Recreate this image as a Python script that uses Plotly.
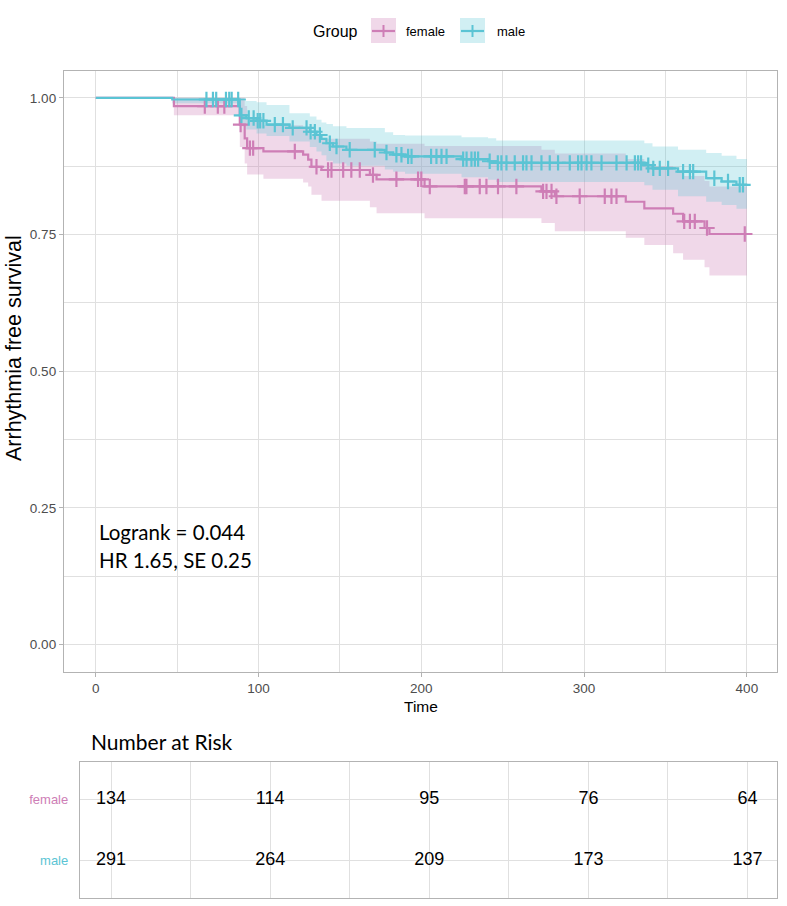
import numpy as np
import plotly.graph_objects as go

# ---------------- data ----------------
end_time = 400

female_t  = [0, 48, 88.5, 91.5, 93, 103, 127.4, 130.5, 132.5, 138.7, 168.4, 172.5, 202, 273.8, 282, 325.6, 337, 354.7, 360.8, 374, 377]
female_s  = [1.0, 0.985, 0.951, 0.926, 0.908, 0.902, 0.896, 0.887, 0.874, 0.868, 0.859, 0.851, 0.838, 0.829, 0.820, 0.810, 0.798, 0.788, 0.774, 0.762, 0.751]
female_lo = [1.0, 0.968, 0.910, 0.880, 0.860, 0.852, 0.845, 0.838, 0.823, 0.812, 0.800, 0.789, 0.780, 0.771, 0.756, 0.744, 0.731, 0.716, 0.704, 0.690, 0.675]
female_hi = [1.0, 1.0, 1.0, 0.985, 0.960, 0.950, 0.945, 0.940, 0.930, 0.925, 0.920, 0.916, 0.912, 0.905, 0.898, 0.888, 0.875, 0.868, 0.857, 0.848, 0.838]
female_cens = [67, 75, 79, 89, 94.7, 96.7, 122.3, 135.6, 142.7, 144.8, 152, 157, 162.2, 170.3, 184.7,
               198, 200, 205.2, 226.7, 227.7, 235.9, 240, 247.1, 258.4, 274.8, 276.9, 280, 283,
               297.3, 312.7, 316.8, 319.9, 361.5, 365, 368, 375.5, 398.7]

male_t  = [0, 47, 88.5, 92.5, 98.8, 104.9, 119, 131.5, 135.6, 138.7, 141.7, 145.7, 154, 177.6, 182.7, 190, 224.7, 241, 246, 337, 342, 357.7, 375, 384.5, 393.6]
male_s  = [1.0, 0.997, 0.968, 0.963, 0.958, 0.951, 0.945, 0.938, 0.932, 0.925, 0.917, 0.911, 0.905, 0.900, 0.896, 0.893, 0.888, 0.884, 0.881, 0.877, 0.871, 0.865, 0.853, 0.847, 0.841]
male_lo = [1.0, 0.990, 0.948, 0.942, 0.935, 0.930, 0.920, 0.910, 0.902, 0.895, 0.885, 0.880, 0.876, 0.869, 0.865, 0.861, 0.855, 0.850, 0.846, 0.840, 0.832, 0.820, 0.810, 0.804, 0.797]
male_hi = [1.0, 1.0, 0.994, 0.994, 0.992, 0.987, 0.972, 0.966, 0.960, 0.955, 0.952, 0.948, 0.945, 0.937, 0.932, 0.931, 0.928, 0.926, 0.922, 0.917, 0.911, 0.905, 0.899, 0.894, 0.888]
male_cens = [68, 72, 74, 80, 82, 83.5, 87.5, 89.5, 94, 97, 99.5, 101, 103, 110, 115, 121, 129.5, 132, 134.6, 137.7,
             143.8, 147.9, 156, 171.4, 178.6, 184.7, 187.8, 191.9, 194, 206, 209.3, 212.4, 215.5, 225.7, 227.8,
             230.8, 232.9, 234.9, 242, 247, 249.2, 252.3, 257.4, 262.5, 264.6, 267.7, 273.8, 278.9, 284, 291.2,
             296.3, 298.4, 301.5, 304.5, 310.7, 319.9, 326.1, 331.2, 333.2, 335, 339.4, 342.5, 346.5, 351.6,
             360.8, 365, 367, 380, 388.4, 395.6, 397.6]

risk_times = [0, 100, 200, 300, 400]
risk_female = [134, 114, 95, 76, 64]
risk_male = [291, 264, 209, 173, 137]
groups = ["female", "male"]

x_ticks = [0, 100, 200, 300, 400]
y_ticks = [0, 0.25, 0.5, 0.75, 1.0]

F_LINE = "#CE7EB6"
F_FILL = "rgba(206,126,182,0.30)"
M_LINE = "#5BC4D4"
M_FILL = "rgba(91,196,212,0.28)"
GRID = "#E0E0E0"
BORDER = "#B3B3B3"

W, H = 787, 906
def px(x): return x / W
def py(y): return 1 - y / H

def ext(t, v):
    return list(t) + [end_time], list(v) + [v[-1]]

def step_at(t, s, c):
    idx = np.searchsorted(np.array(t), np.array(c), side="right") - 1
    return list(np.array(s)[idx])

fig = go.Figure()

for t, s, lo, hi, fill in [(female_t, female_s, female_lo, female_hi, F_FILL),
                            (male_t, male_s, male_lo, male_hi, M_FILL)]:
    tx, lov = ext(t, lo)
    _, hiv = ext(t, hi)
    fig.add_trace(go.Scatter(x=tx, y=lov, mode="lines", line=dict(width=0, shape="hv"),
                             showlegend=False, hoverinfo="skip"))
    fig.add_trace(go.Scatter(x=tx, y=hiv, mode="lines", line=dict(width=0, shape="hv"),
                             fill="tonexty", fillcolor=fill, showlegend=False, hoverinfo="skip"))

for t, s, cens, col in [(female_t, female_s, female_cens, F_LINE),
                        (male_t, male_s, male_cens, M_LINE)]:
    tx, sv = ext(t, s)
    fig.add_trace(go.Scatter(x=tx, y=sv, mode="lines", line=dict(width=2.2, color=col, shape="hv"),
                             showlegend=False))
    fig.add_trace(go.Scatter(x=cens, y=step_at(t, s, cens), mode="markers",
                             marker=dict(symbol="cross-thin", size=11, line=dict(width=2.2, color=col), color=col),
                             showlegend=False))

# risk table
for g, vals, row in [("female", risk_female, 2), ("male", risk_male, 1)]:
    fig.add_trace(go.Scatter(x=risk_times, y=[row] * len(risk_times), text=[str(v) for v in vals],
                             mode="text", textfont=dict(size=18, color="black", family="Liberation Sans, Arial"),
                             xaxis="x2", yaxis="y2", showlegend=False))

axis_common = dict(showline=True, mirror=True, linecolor=BORDER, linewidth=1.3,
                   gridcolor=GRID, gridwidth=1.3, zeroline=False)

fig.update_layout(
    width=W, height=H, margin=dict(l=0, r=0, t=0, b=0),
    paper_bgcolor="white", plot_bgcolor="white", showlegend=False,
    font=dict(family="Liberation Sans, Arial", color="#4D4D4D"),
    xaxis=dict(domain=[px(64), px(777)], range=[-19.5, 418.5], tickvals=x_ticks,
               ticks="outside", ticklen=4, tickcolor=BORDER, tickwidth=1.3,
               tickfont=dict(size=13.5, color="#4D4D4D"),
               minor=dict(dtick=50, tick0=0, showgrid=True, gridcolor=GRID, gridwidth=1),
               **axis_common),
    yaxis=dict(domain=[py(672), py(70.5)], range=[-0.05, 1.05], tickvals=y_ticks, tickformat=".2f",
               ticks="outside", ticklen=4, tickcolor=BORDER, tickwidth=1.3,
               tickfont=dict(size=13.5, color="#4D4D4D"),
               minor=dict(dtick=0.125, tick0=0, showgrid=True, gridcolor=GRID, gridwidth=1),
               **axis_common),
    xaxis2=dict(domain=[px(80), px(777)], range=[-19.5, 418.5], anchor="y2", tickvals=x_ticks,
                showticklabels=False, ticks="",
                minor=dict(dtick=50, tick0=0, showgrid=True, gridcolor=GRID, gridwidth=1),
                **axis_common),
    yaxis2=dict(domain=[py(898), py(762)], range=[0.4, 2.6], anchor="x2", tickvals=[2, 1],
                ticktext=[f"<span style='color:{F_LINE}'>female</span>",
                          f"<span style='color:{M_LINE}'>male</span>"],
                ticks="", ticklabelstandoff=8, tickfont=dict(size=13), **axis_common),
)

ann = []
ann.append(dict(text="Arrhythmia free survival", x=px(14), y=py(348), xref="paper", yref="paper",
                textangle=-90, showarrow=False, font=dict(size=21.5, color="black", family="Liberation Sans, Arial"),
                xanchor="center", yanchor="middle"))
ann.append(dict(text="Time", x=px(421), y=py(706), xref="paper", yref="paper", showarrow=False,
                font=dict(size=15.5, color="black", family="Liberation Sans, Arial"), xanchor="center", yanchor="middle"))
ann.append(dict(text="Logrank = 0.044", x=px(97), y=py(532), xref="paper", yref="paper", showarrow=False,
                font=dict(size=20.5, color="black", family="Lato"), xanchor="left", yanchor="middle"))
ann.append(dict(text="HR 1.65, SE 0.25", x=px(97), y=py(560), xref="paper", yref="paper", showarrow=False,
                font=dict(size=20.5, color="black", family="Lato"), xanchor="left", yanchor="middle"))
ann.append(dict(text="Number at Risk", x=px(89), y=py(741), xref="paper", yref="paper", showarrow=False,
                font=dict(size=21, color="black", family="Lato"), xanchor="left", yanchor="middle"))
# legend
ann.append(dict(text="Group", x=px(311), y=py(32), xref="paper", yref="paper", showarrow=False,
                font=dict(size=16, color="black", family="Liberation Sans, Arial"), xanchor="left", yanchor="middle"))
shapes = []
for name, x0, tx, fill, col in [("female", 371, 404, F_FILL, F_LINE), ("male", 460, 495, M_FILL, M_LINE)]:
    shapes.append(dict(type="rect", xref="paper", yref="paper", x0=px(x0), x1=px(x0 + 25), y0=py(18), y1=py(43),
                       fillcolor=fill, line=dict(width=0)))
    shapes.append(dict(type="line", xref="paper", yref="paper", x0=px(x0 + 1), x1=px(x0 + 24), y0=py(31), y1=py(31),
                       line=dict(color=col, width=2.2)))
    shapes.append(dict(type="line", xref="paper", yref="paper", x0=px(x0 + 12.5), x1=px(x0 + 12.5), y0=py(25), y1=py(37),
                       line=dict(color=col, width=2)))
    ann.append(dict(text=name, x=px(tx), y=py(32), xref="paper", yref="paper", showarrow=False,
                    font=dict(size=13, color="black", family="Liberation Sans, Arial"), xanchor="left", yanchor="middle"))

fig.update_layout(annotations=ann, shapes=shapes)
fig.write_html("out.html")
